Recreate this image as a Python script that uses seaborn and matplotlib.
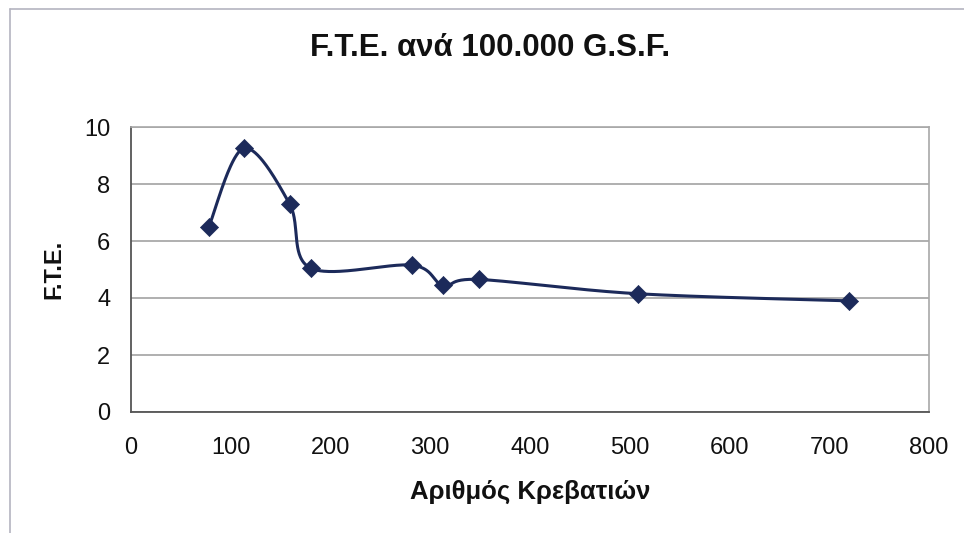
import numpy as np
import pandas as pd
import matplotlib
matplotlib.use("Agg")
import matplotlib.pyplot as plt
from matplotlib.lines import Line2D
import seaborn as sns

# Number of beds vs. F.T.E. per 100,000 G.S.F.
beds = [78, 113, 159, 180, 282, 313, 349, 508, 720]
fte = [6.50, 9.25, 7.30, 5.05, 5.15, 4.45, 4.65, 4.15, 3.90]

title = "F.T.E. ανά 100.000 G.S.F."
xlabel = "Αριθμός Κρεβατιών"
ylabel = "F.T.E."
xticks = [0, 100, 200, 300, 400, 500, 600, 700, 800]
yticks = [0, 2, 4, 6, 8, 10]

sns.set_theme(style="white")
plt.rcParams["font.family"] = ["Liberation Sans", "DejaVu Sans"]

navy = "#1c2a5a"


def smooth_curve(xs, ys, n=60):
    """Cubic Bezier smoothing through every point (Catmull-Rom control points)."""
    p = np.column_stack([xs, ys]).astype(float)
    pts = np.vstack([p[0], p, p[-1]])
    out = []
    t = np.linspace(0, 1, n)[:, None]
    for i in range(1, len(pts) - 2):
        p0, p3 = pts[i], pts[i + 1]
        c1 = p0 + (pts[i + 1] - pts[i - 1]) / 6.0
        c2 = p3 - (pts[i + 2] - pts[i]) / 6.0
        seg = ((1 - t) ** 3) * p0 + 3 * ((1 - t) ** 2) * t * c1 \
            + 3 * (1 - t) * t ** 2 * c2 + t ** 3 * p3
        out.append(seg if i == 1 else seg[1:])
    return np.vstack(out)


df = pd.DataFrame({"beds": beds, "fte": fte})
curve = smooth_curve(df["beds"], df["fte"])
cdf = pd.DataFrame({"x": curve[:, 0], "y": curve[:, 1]})

fig = plt.figure(figsize=(9.64, 5.33), dpi=100)
ax = fig.add_axes([131 / 964, 1 - 412 / 533, 798 / 964, 285 / 533])

sns.lineplot(data=cdf, x="x", y="y", sort=False, estimator=None, ax=ax,
             color=navy, linewidth=2.2, zorder=3)
sns.scatterplot(data=df, x="beds", y="fte", ax=ax, marker="D", s=85,
                color=navy, edgecolor=navy, linewidth=0.5, zorder=4)

ax.set_xlim(0, 800)
ax.set_ylim(0, 10)
ax.set_xticks(xticks)
ax.set_yticks(yticks)
ax.set_xticklabels([str(v) for v in xticks], fontsize=17)
ax.set_yticklabels([str(v) for v in yticks], fontsize=17)
ax.yaxis.grid(True, color="#9a9a9a", linewidth=1.1)
ax.xaxis.grid(False)
ax.set_axisbelow(True)

for side in ["top", "right"]:
    ax.spines[side].set_color("#a8a8a8")
    ax.spines[side].set_linewidth(1.2)
for side in ["left", "bottom"]:
    ax.spines[side].set_color("#555555")
    ax.spines[side].set_linewidth(1.3)

ax.tick_params(axis="both", which="major", direction="out", length=5,
               width=1, color="#555555", labelcolor="#111111")
ax.tick_params(axis="x", pad=13)
ax.tick_params(axis="y", pad=10)

ax.set_xlabel(xlabel, fontsize=18.5, fontweight="bold", labelpad=15, color="#111111")
ax.set_ylabel(ylabel, fontsize=17, fontweight="bold", labelpad=13, color="#111111")

fig.text(490 / 964, 1 - 48 / 533, title, ha="center", va="center",
         fontsize=22.5, fontweight="bold", color="#111111")

# chart-area frame along the top and left edges
fig.add_artist(Line2D([10 / 964, 1.0], [1 - 9 / 533, 1 - 9 / 533],
                      transform=fig.transFigure, color="#b4b4c0", linewidth=1.2))
fig.add_artist(Line2D([10 / 964, 10 / 964], [0.0, 1 - 9 / 533],
                      transform=fig.transFigure, color="#b4b4c0", linewidth=1.2))

fig.savefig("out.png", dpi=100)
